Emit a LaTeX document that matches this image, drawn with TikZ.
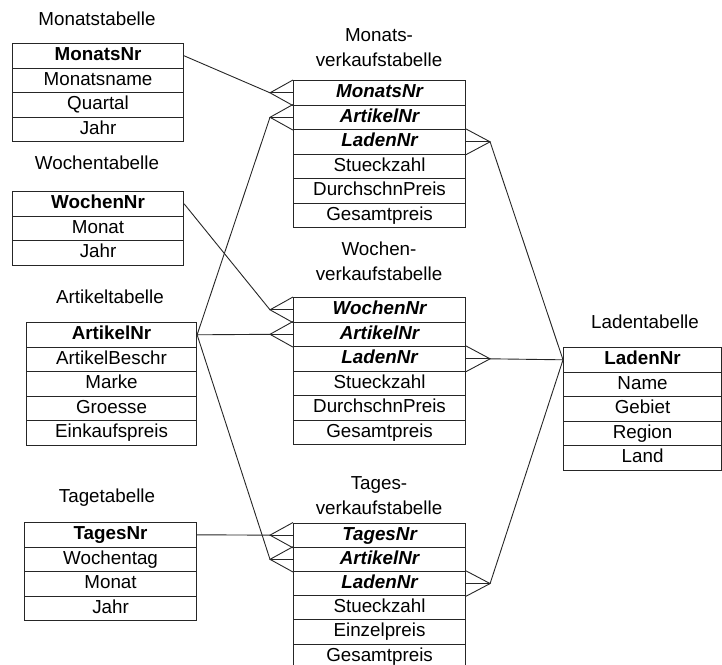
\documentclass[tikz,border=0pt]{standalone}
\usepackage{fontspec}
\setmainfont{Liberation Sans}
\usetikzlibrary{positioning}

\tikzset{
  field/.style={draw=black!85, line width=1.1pt, anchor=north west,
    minimum height=24.5pt, inner sep=0pt, text height=13.5pt, text depth=3.5pt,
    font=\fontsize{18.8pt}{20pt}\selectfont},
  dimfield/.style={field, minimum width=171pt},
  factfield/.style={field, minimum width=172pt},
  shopfield/.style={field, minimum width=158pt},
  pk/.style={font=\fontsize{18.8pt}{20pt}\selectfont\bfseries},
  fk/.style={font=\fontsize{18.8pt}{20pt}\selectfont\bfseries\itshape},
  caption/.style={align=center, inner sep=0pt,
    font=\fontsize{18.8pt}{25pt}\selectfont},
  link/.style={draw=black!85, line width=0.9pt},
}

\begin{document}
\begin{tikzpicture}[x=1pt, y=-1pt]
\useasboundingbox (0,0) rectangle (722,664);
\clip (0,0) rectangle (722,664);

% ---- Monatstabelle ----
\node[caption] (capM) at (97,19) {Monatstabelle};
\node[dimfield, pk] (m1) at (12,43) {MonatsNr};
\node[dimfield] (m2) at (12,67.5) {Monatsname};
\node[dimfield] (m3) at (12,92) {Quartal};
\node[dimfield] (m4) at (12,116.5) {Jahr};

% ---- Wochentabelle ----
\node[caption] (capW) at (97,163) {Wochentabelle};
\node[dimfield, pk] (w1) at (12,191) {WochenNr};
\node[dimfield] (w2) at (12,215.5) {Monat};
\node[dimfield] (w3) at (12,240) {Jahr};

% ---- Artikeltabelle ----
\node[caption] (capA) at (110,297) {Artikeltabelle};
\node[dimfield, pk, minimum width=170pt] (a1) at (26,322) {ArtikelNr};
\node[dimfield, minimum width=170pt] (a2) at (26,346.5) {ArtikelBeschr};
\node[dimfield, minimum width=170pt] (a3) at (26,371) {Marke};
\node[dimfield, minimum width=170pt] (a4) at (26,395.5) {Groesse};
\node[dimfield, minimum width=170pt] (a5) at (26,420) {Einkaufspreis};

% ---- Tagetabelle ----
\node[caption] (capT) at (107,498) {Tagetabelle};
\node[dimfield, pk, minimum width=172pt] (t1) at (24,522) {TagesNr};
\node[dimfield, minimum width=172pt] (t2) at (24,546.5) {Wochentag};
\node[dimfield, minimum width=172pt] (t3) at (24,571) {Monat};
\node[dimfield, minimum width=172pt] (t4) at (24,595.5) {Jahr};

% ---- Monatsverkaufstabelle ----
\node[caption] (capMV) at (379,48) {Monats-\\verkaufstabelle};
\node[factfield, fk] (mv1) at (293,80) {MonatsNr};
\node[factfield, fk] (mv2) at (293,104.5) {ArtikelNr};
\node[factfield, fk] (mv3) at (293,129) {LadenNr};
\node[factfield] (mv4) at (293,153.5) {Stueckzahl};
\node[factfield] (mv5) at (293,178) {DurchschnPreis};
\node[factfield] (mv6) at (293,202.5) {Gesamtpreis};

% ---- Wochenverkaufstabelle ----
\node[caption] (capWV) at (379,261) {Wochen-\\verkaufstabelle};
\node[factfield, fk] (wv1) at (293,297) {WochenNr};
\node[factfield, fk] (wv2) at (293,321.5) {ArtikelNr};
\node[factfield, fk] (wv3) at (293,346) {LadenNr};
\node[factfield] (wv4) at (293,370.5) {Stueckzahl};
\node[factfield] (wv5) at (293,395) {DurchschnPreis};
\node[factfield] (wv6) at (293,419.5) {Gesamtpreis};

% ---- Tagesverkaufstabelle ----
\node[caption] (capTV) at (379,496) {Tages-\\verkaufstabelle};
\node[factfield, fk, minimum height=24.2pt] (tv1) at (293,522.5) {TagesNr};
\node[factfield, fk, minimum height=24.2pt] (tv2) at (293,546.7) {ArtikelNr};
\node[factfield, fk, minimum height=24.2pt] (tv3) at (293,570.9) {LadenNr};
\node[factfield, minimum height=24.2pt] (tv4) at (293,595.1) {Stueckzahl};
\node[factfield, minimum height=24.2pt] (tv5) at (293,619.3) {Einzelpreis};
\node[factfield, minimum height=24.2pt] (tv6) at (293,643.5) {Gesamtpreis};

% ---- Ladentabelle ----
\node[caption] (capL) at (645,322) {Ladentabelle};
\node[shopfield, pk] (l1) at (563,347) {LadenNr};
\node[shopfield] (l2) at (563,371.5) {Name};
\node[shopfield] (l3) at (563,396) {Gebiet};
\node[shopfield] (l4) at (563,420.5) {Region};
\node[shopfield] (l5) at (563,445) {Land};

% ---- crow's foot apexes ----
\coordinate (mvA1) at ([xshift=-23pt]mv1.west);
\coordinate (mvA2) at ([xshift=-23pt]mv2.west);
\coordinate (mvA3) at ([xshift=24pt]mv3.east);
\coordinate (wvA1) at ([xshift=-23pt]wv1.west);
\coordinate (wvA2) at ([xshift=-23pt]wv2.west);
\coordinate (wvA3) at ([xshift=24pt]wv3.east);
\coordinate (tvA1) at ([xshift=-23pt]tv1.west);
\coordinate (tvA2) at ([xshift=-23pt]tv2.west);
\coordinate (tvA3) at ([xshift=24pt]tv3.east);

% crow's feet on the many side
\foreach \r/\a in {mv1/mvA1,mv2/mvA2,wv1/wvA1,wv2/wvA2,tv1/tvA1,tv2/tvA2} {
  \draw[link] (\r.north west) -- (\a) -- (\r.south west);
  \draw[link] (\r.west) -- (\a);
}
\foreach \r/\a in {mv3/mvA3,wv3/wvA3,tv3/tvA3} {
  \draw[link] (\r.north east) -- (\a) -- (\r.south east);
  \draw[link] (\r.east) -- (\a);
}

% relationships
\draw[link] (m1.east) -- (mvA1);
\draw[link] (w1.east) -- (wvA1);
\draw[link] (t1.east) -- (tvA1);
\draw[link] (a1.east) -- (mvA2);
\draw[link] (a1.east) -- (wvA2);
\draw[link] (a1.east) -- (tvA2);
\draw[link] (mvA3) -- (l1.west);
\draw[link] (wvA3) -- (l1.west);
\draw[link] (tvA3) -- (l1.west);
\end{tikzpicture}
\end{document}
